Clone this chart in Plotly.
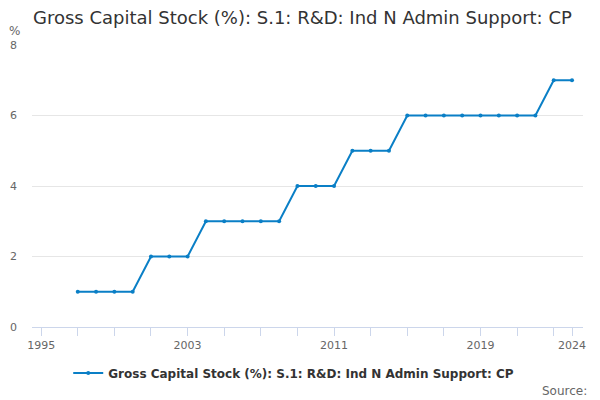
import plotly.graph_objects as go

years = list(range(1997, 2025))
values = [1, 1, 1, 1,
          2, 2, 2,
          3, 3, 3, 3, 3,
          4, 4, 4,
          5, 5, 5,
          6, 6, 6, 6, 6, 6, 6, 6,
          7, 7]

tick_years = list(range(1995, 2024, 2)) + [2024]
tick_labels = ['1995', '2003', '2011', '2019', '2024']
series_name = 'Gross Capital Stock (%): S.1: R&D: Ind N Admin Support: CP'

ticktext = [str(y) if str(y) in tick_labels else '' for y in tick_years]

fig = go.Figure()
fig.add_trace(go.Scatter(
    x=years, y=values, mode='lines+markers', name='<b>' + series_name + '</b>',
    line=dict(color='#0a7fc6', width=2),
    marker=dict(size=4, color='#0a7fc6'),
))

fig.update_layout(
    width=600, height=400,
    font=dict(family='DejaVu Sans', color='#666666', size=11),
    title=dict(text=series_name, xref='container', yref='container',
               x=0.055, xanchor='left', y=0.957, yanchor='middle',
               font=dict(size=18, color='#333333')),
    paper_bgcolor='white', plot_bgcolor='white',
    margin=dict(l=32, r=17, t=45, b=73, autoexpand=False),
    showlegend=True,
    legend=dict(orientation='h', x=0.475, xanchor='center', y=-0.163, yanchor='middle',
                font=dict(size=12, color='#333333', family='DejaVu Sans')),
    xaxis=dict(range=[1994.5, 2024.6], tickvals=tick_years, ticktext=ticktext,
               showgrid=False, showline=True, linecolor='#ccd6eb', linewidth=1,
               ticks='outside', ticklen=8, tickcolor='#ccd6eb', zeroline=False,
               automargin=False, tickfont=dict(size=11, color='#666666')),
    yaxis=dict(range=[0, 8], dtick=2, showgrid=True, gridcolor='#e6e6e6',
               zeroline=False, showline=False, ticks='', ticklabelstandoff=14,
               automargin=False, tickfont=dict(size=11, color='#666666')),
    annotations=[
        dict(text='%', xref='paper', yref='paper', x=-0.045, y=1.05, xanchor='left',
             yanchor='middle', showarrow=False, font=dict(size=12, color='#666666')),
        dict(text='Source:', xref='paper', yref='paper', x=1.01, y=-0.227, xanchor='right',
             yanchor='middle', showarrow=False, font=dict(size=12, color='#666666')),
    ],
)

fig.write_html('out.html', config={'displayModeBar': False},
               post_script="document.body.style.margin='0';")
